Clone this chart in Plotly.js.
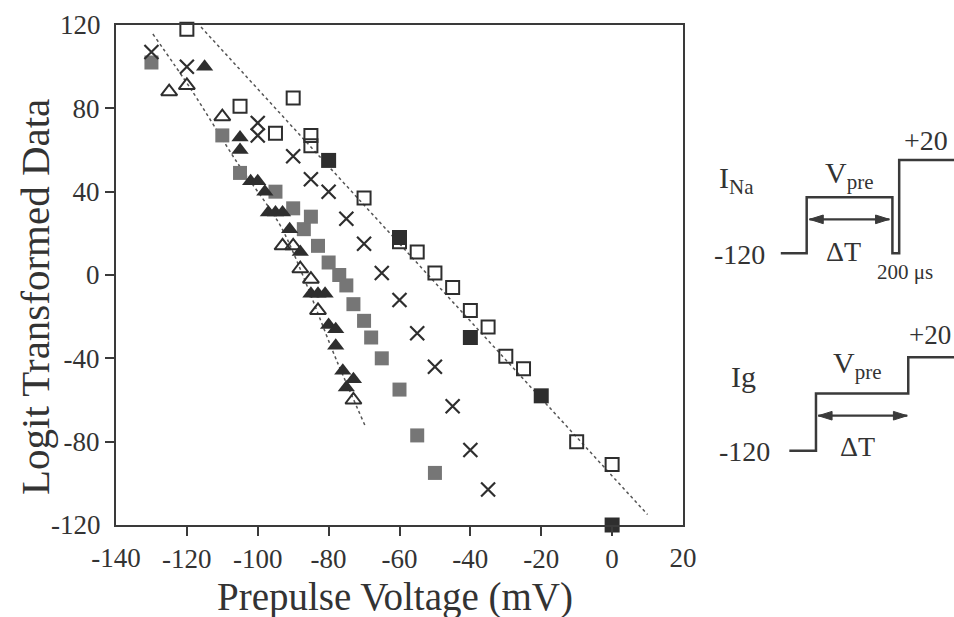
<!DOCTYPE html>
<html>
<head>
<meta charset="utf-8">
<script src="https://cdn.plot.ly/plotly-3.0.1.min.js"></script>
<style>html,body{margin:0;padding:0;background:#fff;}#chart{width:954px;height:617px;}</style>
</head>
<body>
<div id="chart"></div>
<script>
// ---- Data ----
// Open squares
const openSqX = [-120, -105, -95, -90, -85, -85, -70, -60, -55, -50, -45, -40, -35, -30, -25, -10, 0];
const openSqY = [118, 81, 68, 85, 67, 62, 37, 16, 11, 1, -6, -17, -25, -39, -45, -80, -91];
// Filled (black) squares
const fillSqX = [-80, -60, -40, -20, 0];
const fillSqY = [55, 18, -30, -58, -120];
// Crosses
const crossX = [-130, -120, -100, -100, -90, -85, -80, -75, -70, -65, -60, -55, -50, -45, -40, -35];
const crossY = [107, 100, 73, 67, 57, 46, 40, 27, 15, 1, -12, -28, -44, -63, -84, -103];
// Gray (stippled) squares
const graySqX = [-130, -110, -105, -95, -90, -87, -85, -83, -80, -77, -75, -73, -70, -68, -65, -60, -55, -50];
const graySqY = [102, 67, 49, 40, 32, 22, 28, 14, 6, 0, -5, -14, -22, -30, -40, -55, -77, -95];
// Filled triangles
const fillTriX = [-115, -105, -105, -102, -100, -98, -97, -95, -93, -91, -88, -85, -83, -81, -80, -78, -78, -76, -73, -75];
const fillTriY = [100, 66, 60, 45, 45, 40, 30, 30, 30, 22, 11, -9, -9, -9, -24, -26, -34, -46, -50, -54];
// Open triangles
const openTriX = [-125, -120, -110, -93, -90, -88, -85, -83, -73];
const openTriY = [88, 91, 76, 14, 14, 3, -2, -17, -60];
// Dotted fit curves
const fitRightX = [-116, 10];
const fitRightY = [119, -115];
const fitLeftX = [-129.6, -118.7, -105.9, -93.2, -77.6, -69.8];
const fitLeftY = [115.7, 88.8, 54.2, 22.4, -41.6, -72];
// Axis ticks
const xTicks = [-120, -100, -80, -60, -40, -20, 0];
const xEndTicks = [-140, 20];
const yTicks = [-80, -40, 0, 40, 80];
const yEndTicks = [-120, 120];
const lbl = v => String(v).replace('\u2212', '-');

// Pulse protocol schematics (time in arbitrary units, voltage in mV)
const naT = [3.11, 4.14, 4.14, 7.55, 7.55, 7.82, 7.82, 10];
const naV = [-120, -120, -36, -36, -120, -120, 20, 20];
const naArrowT = [4.25, 7.43];
const naArrowV = -69;
const gT = [3.45, 4.51, 4.51, 8.18, 8.18, 10];
const gV = [-120, -120, -34, -34, 20, 20];
const gArrowT = [4.60, 8.14];
const gArrowV = -67.5;

const dark = '#2e2e2e';
const lineCol = '#3a3a3a';
const serif = 'Liberation Serif, Times New Roman, serif';

function arrowTraces(span, v, xa, ya) {
  const L = 0.55, H = 6.5;
  const base = {mode: 'lines', xaxis: xa, yaxis: ya, hoverinfo: 'skip'};
  return [
    Object.assign({x: span, y: [v, v], line: {color: lineCol, width: 2.2}}, base),
    Object.assign({x: [span[0], span[0] + L, span[0] + L, span[0]], y: [v, v + H, v - H, v],
      fill: 'toself', fillcolor: lineCol, line: {color: lineCol, width: 1}}, base),
    Object.assign({x: [span[1], span[1] - L, span[1] - L, span[1]], y: [v, v + H, v - H, v],
      fill: 'toself', fillcolor: lineCol, line: {color: lineCol, width: 1}}, base)
  ];
}

const traces = [
  {x: fitRightX, y: fitRightY, mode: 'lines', line: {color: '#555', width: 1.5, dash: 'dot'}},
  {x: fitLeftX, y: fitLeftY, mode: 'lines', line: {color: '#555', width: 1.5, dash: 'dot', shape: 'spline', smoothing: 0.8}},
  {x: graySqX, y: graySqY, mode: 'markers', cliponaxis: false,
   marker: {symbol: 'square', size: 14, color: '#767676', line: {width: 0}}},
  {x: openTriX, y: openTriY, mode: 'markers', cliponaxis: false,
   marker: {symbol: 'triangle-up-open', size: 14, color: dark, line: {width: 2, color: dark}}},
  {x: fillTriX, y: fillTriY, mode: 'markers', cliponaxis: false,
   marker: {symbol: 'triangle-up', size: 15, color: dark, line: {width: 0}}},
  {x: crossX, y: crossY, mode: 'markers', cliponaxis: false,
   marker: {symbol: 'x-thin-open', size: 14, color: dark, line: {width: 2.2, color: dark}}},
  {x: openSqX, y: openSqY, mode: 'markers', cliponaxis: false,
   marker: {symbol: 'square-open', size: 13, color: dark, line: {width: 2, color: dark}}},
  {x: fillSqX, y: fillSqY, mode: 'markers', cliponaxis: false,
   marker: {symbol: 'square', size: 15, color: dark, line: {width: 0}}},
  {x: naT, y: naV, mode: 'lines', line: {color: lineCol, width: 2.5}, xaxis: 'x2', yaxis: 'y2'},
  {x: gT, y: gV, mode: 'lines', line: {color: lineCol, width: 2.5}, xaxis: 'x3', yaxis: 'y3'}
].concat(arrowTraces(naArrowT, naArrowV, 'x2', 'y2'), arrowTraces(gArrowT, gArrowV, 'x3', 'y3'));

function txt(text, x, y, xr, yr, size, xanchor, angle) {
  return {text: text, x: x, y: y, xref: xr, yref: yr, showarrow: false,
          xanchor: xanchor || 'center', yanchor: 'middle', textangle: angle || 0,
          font: {family: serif, size: size, color: '#333'}};
}

const annotations = [
  txt('Prepulse Voltage (mV)', 0.333, -0.144, 'paper', 'paper', 39),
  txt('Logit Transformed Data', -0.0967, 0.456, 'paper', 'paper', 41, 'center', -90),
  txt('I<sub>Na</sub>', 1.33, -10, 'x2', 'y2', 30),
  txt('V<sub>pre</sub>', 5.86, -2, 'x2', 'y2', 30),
  txt('+20', 8.87, 50, 'x2', 'y2', 28),
  txt('-120', 1.45, -122, 'x2', 'y2', 28),
  txt('ΔT', 5.60, -117, 'x2', 'y2', 28),
  txt('200 μs', 8.05, -148, 'x2', 'y2', 21),
  txt('Ig', 1.63, -9, 'x3', 'y3', 30),
  txt('V<sub>pre</sub>', 6.16, 9, 'x3', 'y3', 30),
  txt('+20', 9.95, 53, 'x3', 'y3', 27, 'right'),
  txt('-120', 1.67, -121, 'x3', 'y3', 28),
  txt('ΔT', 6.16, -114, 'x3', 'y3', 28)
];

const hiddenAx = {visible: false, showgrid: false, zeroline: false, fixedrange: true};
const tickFont = {family: serif, size: 27, color: '#333'};

const layout = {
  width: 954, height: 617,
  margin: {l: 116, r: 0, t: 25, b: 92},
  paper_bgcolor: '#fff', plot_bgcolor: '#fff',
  showlegend: false, hovermode: false,
  font: {family: serif, color: '#333'},
  xaxis: {
    domain: [0, 0.6766], range: [-140, 20], tickvals: xTicks, ticktext: xTicks.map(lbl),
    showline: true, mirror: true, linecolor: lineCol, linewidth: 2,
    ticks: 'outside', ticklen: 9, tickwidth: 2, tickcolor: lineCol,
    showgrid: false, zeroline: false, tickfont: tickFont
  },
  xaxis4: {
    overlaying: 'x', anchor: 'y', side: 'bottom', range: [-140, 20],
    tickvals: xEndTicks, ticktext: xEndTicks.map(lbl),
    ticks: 'outside', ticklen: 9, tickwidth: 2, tickcolor: 'rgba(0,0,0,0)',
    showline: false, showgrid: false, zeroline: false, tickfont: tickFont
  },
  yaxis: {
    domain: [0, 1], range: [-120, 120], tickvals: yTicks, ticktext: yTicks.map(lbl),
    showline: true, mirror: true, linecolor: lineCol, linewidth: 2,
    ticks: 'outside', ticklen: 9, tickwidth: 2, tickcolor: lineCol,
    showgrid: false, zeroline: false, tickfont: tickFont
  },
  yaxis4: {
    overlaying: 'y', anchor: 'x', side: 'left', range: [-120, 120],
    tickvals: yEndTicks, ticktext: yEndTicks.map(lbl),
    ticks: 'outside', ticklen: 9, tickwidth: 2, tickcolor: 'rgba(0,0,0,0)',
    showline: false, showgrid: false, zeroline: false, tickfont: tickFont
  },
  xaxis2: Object.assign({domain: [0.70, 1], range: [0, 10], anchor: 'y2'}, hiddenAx),
  yaxis2: Object.assign({domain: [0.49, 0.7833], range: [-160, 60], anchor: 'x2'}, hiddenAx),
  xaxis3: Object.assign({domain: [0.70, 1], range: [0, 10], anchor: 'y3'}, hiddenAx),
  yaxis3: Object.assign({domain: [0.0952, 0.3886], range: [-160, 60], anchor: 'x3'}, hiddenAx),
  annotations: annotations
};

// invisible carrier trace so the overlay axes are drawn
traces.push({x: xEndTicks, y: yEndTicks, mode: 'markers', marker: {opacity: 0}, xaxis: 'x4', yaxis: 'y4', hoverinfo: 'skip'});

Plotly.newPlot('chart', traces, layout, {staticPlot: true, displayModeBar: false});
</script>
</body>
</html>
